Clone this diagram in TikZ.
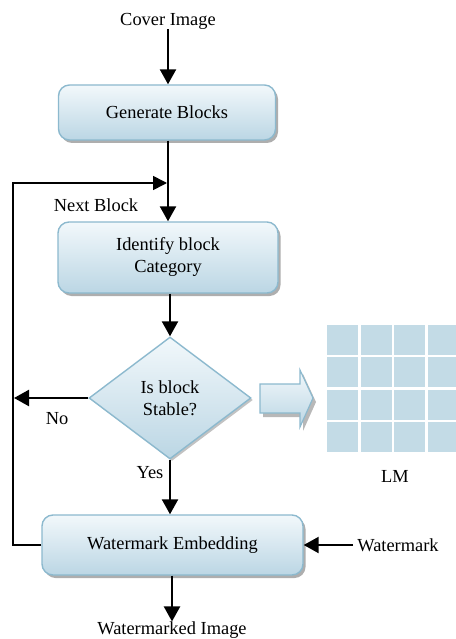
\documentclass[tikz,border=0pt]{standalone}
\usepackage{fontspec}
\setmainfont{Liberation Serif}
\usetikzlibrary{arrows.meta,shapes.geometric,shadows}
\definecolor{boxtop}{HTML}{F2F8FB}
\definecolor{boxbot}{HTML}{BBD6E4}
\definecolor{boxline}{HTML}{8CB9CE}
\definecolor{cellfill}{HTML}{C3DBE6}
\definecolor{shadowgray}{HTML}{9A9A9A}
\tikzset{
  lbl/.style={font=\fontsize{18.4}{22}\selectfont, inner sep=0pt, align=center},
  procbox/.style={lbl, draw=boxline, line width=1.4pt, rounded corners=11pt,
    top color=boxtop, bottom color=boxbot,
    drop shadow={shadow xshift=2.5pt, shadow yshift=-3pt, fill=shadowgray, opacity=0.8}},
  decision/.style={lbl, draw=boxline, line width=1.4pt, shape=diamond,
    top color=boxtop, bottom color=boxbot,
    drop shadow={shadow xshift=2pt, shadow yshift=-2pt, fill=shadowgray, opacity=0.6}},
  flow/.style={line width=2.3pt, -{Triangle[length=15pt,width=16pt]}},
  loopline/.style={line width=1.6pt},
  cell/.style={fill=cellfill, draw=none}
}
\begin{document}
\begin{tikzpicture}[x=1pt,y=-1pt]
\useasboundingbox (0,0) rectangle (455,639);

% process steps
\node[lbl] (cover) at (168,21) {Cover Image};
\node[procbox, minimum width=217pt, minimum height=55pt] (gen) at (167,112.5) {Generate Blocks};
\node[procbox, minimum width=220pt, minimum height=71pt] (ident) at (168,257.5) {Identify block\\Category};
\node[decision, minimum width=162pt, minimum height=122pt] (dec) at (170,398) {Is block\\Stable?};
\node[procbox, minimum width=261pt, minimum height=60pt] (emb) at (172.5,545) {Watermark Embedding};
\node[lbl] (wm) at (398,545) {Watermark};
\node[lbl] (out) at (172,630) {Watermarked Image};

% labels
\node[lbl] (next) at (96,205) {Next Block};
\node[lbl] (no) at (57,419) {No};
\node[lbl] (yes) at (150,473) {Yes};
\node[lbl] (lm) at (395,476) {LM};

% main flow
\draw[flow] (cover.south) -- (cover.south |- gen.north);
\draw[flow] (gen.south -| cover.south) -- (cover.south |- ident.north);
\draw[flow] (ident.south -| dec.north) -- (dec.north);
\draw[flow] (dec.south) -- (dec.south |- emb.north);
\draw[flow] (emb.south -| out.north) -- (out.north);
\draw[flow] (wm.west) ++(-4,0) -- (emb.east);

% feedback loop to the next block
\coordinate (join) at (167,183);
\coordinate (noend) at (14,398);
\draw[loopline] (emb.west) -- (13,545) -- (13,183);
\draw[loopline, -{Triangle[length=14pt,width=14pt]}] (12.2,183) -- (join);
\draw[flow] (dec.west) -- (noend);

% block arrow towards the location map
\fill[shadowgray, opacity=0.7] (263,388) -- (303,388) -- (303,374) -- (316,402) -- (303,431) -- (303,417) -- (263,417) -- cycle;
\draw[boxline, line width=1.2pt, top color=boxtop, bottom color=boxbot]
  (260,384) -- (300,384) -- (300,370) -- (313,398) -- (300,427) -- (300,413) -- (260,413) -- cycle;

% location map grid
\foreach \i in {0,1,2,3}{
  \foreach \j in {0,1,2,3}{
    \fill[cell] ({327+33.5*\i},{325+32.4*\j}) rectangle ++(31,30);
  }
}
\end{tikzpicture}
\end{document}
